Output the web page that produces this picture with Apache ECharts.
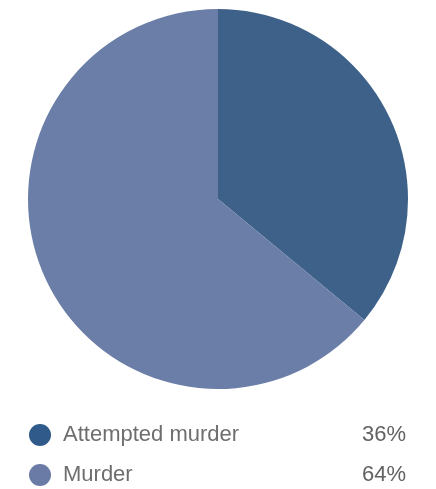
<!DOCTYPE html>
<html>
<head>
<meta charset="utf-8">
<script src="https://cdn.jsdelivr.net/npm/echarts@6/dist/echarts.min.js"></script>
<style>
  html, body { margin: 0; padding: 0; background: #fff; }
  #chart { width: 436px; height: 489px; }
</style>
</head>
<body>
<div id="chart"></div>
<script>
// Share of cases by offence type (percent)
const categories = ['Attempted murder', 'Murder'];
const shares = [36, 64];
const colors = ['#3e6189', '#6b7ea7'];
const legendColors = ['#2f5a89', '#6a7ba6'];

const chart = echarts.init(document.getElementById('chart'), null, { renderer: 'canvas' });

const pieData = categories.map((name, i) => ({
  name: name,
  value: shares[i],
  itemStyle: { color: colors[i] }
}));

const shareByName = {};
categories.forEach((n, i) => { shareByName[n] = shares[i]; });

chart.setOption({
  animation: false,
  legend: {
    orient: 'vertical',
    left: 29,
    top: 424,
    height: 80,
    padding: 0,
    icon: 'circle',
    itemWidth: 22,
    itemHeight: 22,
    itemGap: 18,
    selectedMode: false,
    data: categories.map((name, i) => ({ name: name, itemStyle: { color: legendColors[i] } })),
    formatter: name => `{n|${name}}{v|${shareByName[name]}%}`,
    textStyle: {
      fontFamily: 'Liberation Sans, Arial, sans-serif',
      fontSize: 22,
      color: '#666',
      rich: {
        n: { width: 288, padding: [0, 0, 0, 7], fontSize: 22, color: '#6e6e6e', lineHeight: 22 },
        v: { width: 55, align: 'right', fontSize: 22, color: '#626262', lineHeight: 22 }
      }
    }
  },
  series: [{
    type: 'pie',
    center: [218, 199],
    radius: 190,
    startAngle: 90,
    clockwise: true,
    label: { show: false },
    labelLine: { show: false },
    emphasis: { disabled: true },
    itemStyle: { borderWidth: 0 },
    data: pieData
  }]
});
</script>
</body>
</html>
